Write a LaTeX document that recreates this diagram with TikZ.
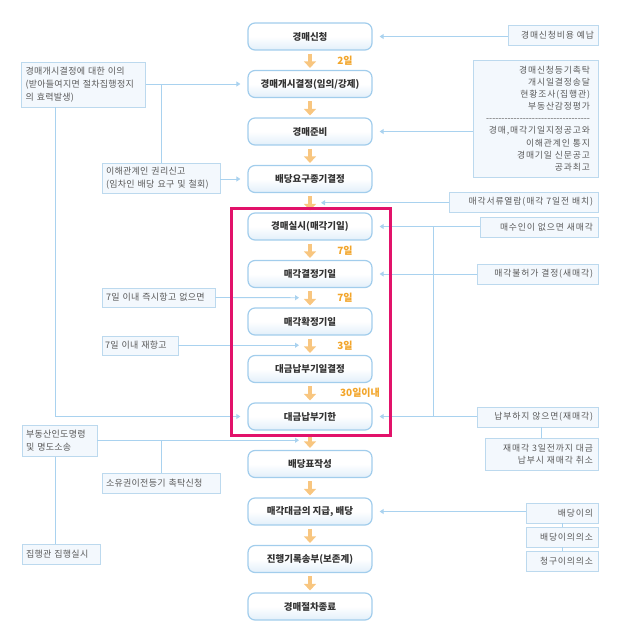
\documentclass[tikz,border=0pt]{standalone}
\usepackage{fontspec}
\setmainfont{Noto Sans CJK KR}
\newfontfamily\krplain{Noto Sans CJK KR}
\newfontfamily\sideL{Noto Sans CJK KR}[LetterSpace=3]
\newfontfamily\sideR{Noto Sans CJK KR}[LetterSpace=10]
\usetikzlibrary{arrows.meta}
\definecolor{mainborder}{HTML}{A2CDEC}
\definecolor{mainfillb}{HTML}{E2EFFA}
\definecolor{sideborder}{HTML}{BCD9EE}
\definecolor{sidefill}{HTML}{F3F8FD}
\definecolor{connc}{HTML}{A9D2EF}
\definecolor{oarr}{HTML}{F8C680}
\definecolor{dayc}{HTML}{F2A52A}
\definecolor{redc}{HTML}{E2126A}
\definecolor{maintext}{HTML}{333333}
\definecolor{sidetext}{HTML}{5A5A5A}
\begin{document}
\begin{tikzpicture}[x=1pt,y=-1pt,
  mainbox/.style={draw=mainborder, line width=1.2pt, rounded corners=7pt,
    top color=white, bottom color=mainfillb, middle color=white,
    minimum width=124pt, minimum height=27pt, inner sep=0pt,
    text=maintext, font=\fontsize{9.5}{11}\selectfont\bfseries},
  sidebox/.style={draw=sideborder, line width=0.8pt, fill=sidefill,
    inner xsep=4pt, inner ysep=0pt, text=sidetext},
  lbox/.style={sidebox, align=left, font=\sideL\fontsize{9}{13}\selectfont},
  rbox/.style={sidebox, align=right, inner xsep=5pt, font=\sideR\fontsize{8.8}{12.1}\selectfont},
  line/.style={draw=connc, line width=0.9pt},
  conn/.style={line, -{Triangle[width=5pt,length=4pt]}, shorten >=7pt},
  gconn/.style={line, -{Triangle[width=5pt,length=4pt]}, shorten >=11pt},
  oarrow/.style={draw=oarr, line width=4.5pt, -{Triangle[width=12pt,length=6.5pt]},
    shorten <=3pt, shorten >=2pt},
  day/.style={text=dayc, font=\fontsize{10}{11}\selectfont\bfseries, inner sep=0pt},
  redframe/.style={draw=redc, line width=3pt}
]
\useasboundingbox (0,0) rectangle (620,639);

% main column
\node[mainbox] (m1)  at (310,36.5)  {경매신청};
\node[mainbox] (m2)  at (310,84)    {경매개시결정(임의/강제)};
\node[mainbox] (m3)  at (310,131.5) {경매준비};
\node[mainbox] (m4)  at (310,179)   {배당요구종기결정};
\node[mainbox] (m5)  at (310,226.5) {경매실시(매각기일)};
\node[mainbox] (m6)  at (310,274)   {매각결정기일};
\node[mainbox] (m7)  at (310,321.5) {매각확정기일};
\node[mainbox] (m8)  at (310,369)   {대금납부기일결정};
\node[mainbox] (m9)  at (310,416.5) {대금납부기한};
\node[mainbox] (m10) at (310,464)   {배당표작성};
\node[mainbox] (m11) at (310,511.5) {매각대금의 지급, 배당};
\node[mainbox] (m12) at (310,559)   {진행기록송부(보존계)};
\node[mainbox] (m13) at (310,606.5) {경매절차종료};

% gap coordinates
\coordinate (g45)  at (310,202.75);
\coordinate (g67)  at (310,297.75);
\coordinate (g78)  at (310,345.25);
\coordinate (g910) at (310,440.25);
\coordinate (vt)   at (433,0);

% orange arrows
\foreach \a/\b in {m1/m2,m2/m3,m3/m4,m4/m5,m5/m6,m6/m7,m7/m8,m8/m9,m9/m10,m10/m11,m11/m12,m12/m13}
  \draw[oarrow] (\a.south) -- (\b.north);

% day labels
\node[day] (d1) at (345,60.25)  {2일};
\node[day] (d2) at (345,250.25) {7일};
\node[day] (d3) at (345,297.75) {7일};
\node[day] (d4) at (345,345.25) {3일};
\node[day] (d5) at (360,392.75) {30일이내};

% left boxes
\node[lbox, text width=116pt, minimum height=45pt] (obj) at (83.5,84.5)
  {경매개시결정에 대한 이의\\(받아들여지면 절차집행정지\\의 효력발생)};
\node[lbox, text width=110pt, minimum height=30pt] (rights) at (161,178)
  {이해관계인 권리신고\\(임차인 배당 요구 및 철회)};
\node[lbox, text width=105pt, minimum height=19pt] (imm) at (158.5,297.5)
  {7일 이내 즉시항고 없으면};
\node[lbox, inner xsep=3pt, text width=70pt, minimum height=19pt] (re) at (140,345.5)
  {7일 이내 재항고};
\node[lbox, text width=67pt, minimum height=31pt] (evict) at (59.5,441)
  {부동산인도명령\\및 명도소송};
\node[lbox, text width=110pt, minimum height=20pt] (own) at (161,483)
  {소유권이전등기 촉탁신청};
\node[lbox, text width=70pt, minimum height=20pt] (exec) at (61,554)
  {집행관 집행실시};

% right boxes
\node[rbox, inner xsep=4pt, text width=82pt, minimum height=20pt] (fee) at (553,35)
  {경매신청비용 예납};
\node[rbox, inner xsep=8pt, text width=109pt, minimum height=117pt] (prep) at (535.5,118.5)
  {경매신청등기촉탁\\개시일결정송달\\현황조사(집행관)\\부동산감정평가\\\mbox{\krplain ----------------------------------}\\경매,매각기일지정공고와\\이해관계인 통지\\경매기일 신문공고\\공과최고};
\node[rbox, text width=139pt, minimum height=20pt] (docs) at (523.5,202)
  {매각서류열람(매각 7일전 배치)};
\node[rbox, text width=108pt, minimum height=20pt] (nobuy) at (539,227)
  {매수인이 없으면 새매각};
\node[rbox, text width=111pt, minimum height=20pt] (deny) at (537.5,274)
  {매각불허가 결정(새매각)};
\node[rbox, text width=111pt, minimum height=20pt] (nopay) at (537.5,417)
  {납부하지 않으면(재매각)};
\node[rbox, text width=103pt, minimum height=32pt] (resale) at (541.5,454)
  {재매각 3일전까지 대금\\납부시 재매각 취소};
\node[rbox, text width=62pt, minimum height=20pt] (div1) at (562,513)
  {배당이의};
\node[rbox, text width=62pt, minimum height=20pt] (div2) at (562,537)
  {배당이의의소};
\node[rbox, text width=62pt, minimum height=20pt] (div3) at (562,561)
  {청구이의의소};

% left connectors
\draw[conn] (obj.east |- m2) -- (m2.west);
\draw[line] (rights.north) -- (rights.north |- m2);
\draw[conn] (rights.east |- m4) -- (m4.west);
\draw[conn] ([xshift=-28.5pt]obj.south) |- (m9.west);
\draw[gconn] (imm.east) -- (g67);
\draw[gconn] (re.east |- g78) -- (g78);
\draw[gconn] (evict.east |- g910) -- (g910);
\draw[line] ([xshift=-4.5pt]evict.south) -- ([xshift=-4.5pt]evict.south |- exec.north);
\draw[line] (own.north) -- (own.north |- g910);

% right connectors
\draw[conn] (fee.west |- m1) -- (m1.east);
\draw[conn] (prep.west |- m3) -- (m3.east);
\draw[gconn] (docs.west |- g45) -- (g45);
\draw[conn] (nobuy.west |- m5) -- (m5.east);
\draw[conn] (deny.west |- m6) -- (m6.east);
\draw[conn] (nopay.west |- m9) -- (m9.east);
\draw[line] (vt |- m5) -- (vt |- m9);
\draw[line] (resale.north |- nopay.south) -- (resale.north);
\draw[conn] (div1.west |- m11) -- (m11.east);
\draw[line] (div1.south) -- (div2.north);
\draw[line] (div2.south) -- (div3.north);

% highlight frame
\draw[redframe] (231,208) rectangle (390,435);
\end{tikzpicture}
\end{document}
